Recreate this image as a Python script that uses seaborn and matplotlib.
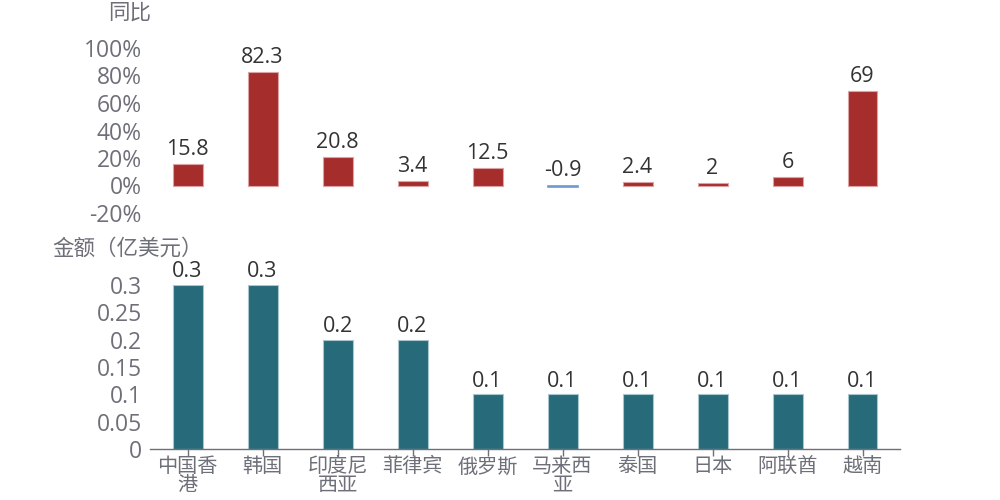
import matplotlib
matplotlib.use("Agg")
import matplotlib.pyplot as plt
import seaborn as sns
import pandas as pd

# 数据
countries = ["中国香\n港", "韩国", "印度尼\n西亚", "菲律宾", "俄罗斯",
             "马来西\n亚", "泰国", "日本", "阿联酋", "越南"]
yoy = [15.8, 82.3, 20.8, 3.4, 12.5, -0.9, 2.4, 2, 6, 69]
amount = [0.3, 0.3, 0.2, 0.2, 0.1, 0.1, 0.1, 0.1, 0.1, 0.1]
yoy_ticks = [-20, 0, 20, 40, 60, 80, 100]
amount_ticks = [0, 0.05, 0.1, 0.15, 0.2, 0.25, 0.3]

RED = "#a52e2d"
BLUE = "#6c9bd2"
TEAL = "#276b7a"
GRAY = "#6e7079"
TXT = "#333333"

sns.set_theme(style="white")
plt.rcParams['font.family'] = ['Open Sans', 'Noto Sans CJK SC', 'DejaVu Sans']

df = pd.DataFrame({"country": countries, "yoy": yoy, "amount": amount})
df["sign"] = ["neg" if v < 0 else "pos" for v in df["yoy"]]

fig = plt.figure(figsize=(10, 5), dpi=100)
ax1 = fig.add_axes([0.15, 0.574, 0.75, 0.33])
ax2 = fig.add_axes([0.15, 0.102, 0.75, 0.328])

fs = 15.5     # 数值标签
tfs = 16.5    # 刻度

# ─── 同比 ───
sns.barplot(data=df, x="country", y="yoy", hue="sign",
            palette={"pos": RED, "neg": BLUE}, dodge=False, width=0.4,
            ax=ax1, legend=False, edgecolor="#dba3a3", linewidth=0.8,
            saturation=1)
for i, v in enumerate(yoy):
    top = max(v, 0)
    ax1.text(i, top + 3, f"{v:g}", ha="center", va="bottom",
             fontsize=fs, color=TXT)
ax1.set_ylim(-20, 100)
ax1.set_xlim(-0.5, 9.5)
ax1.set_yticks(yoy_ticks)
ax1.set_yticklabels([f"{t}%" for t in yoy_ticks])
ax1.set_xticks([])
ax1.set_xlabel("")
ax1.set_ylabel("")
ax1.tick_params(axis="y", labelsize=tfs, colors=GRAY, length=0, pad=6)
for s in ax1.spines.values():
    s.set_visible(False)
# 负值的细条
for p in ax1.patches:
    if p.get_height() < 0:
        p.set_edgecolor(BLUE)
        p.set_linewidth(1.2)

# ─── 金额 ───
sns.barplot(data=df, x="country", y="amount", color=TEAL, width=0.4,
            ax=ax2, edgecolor="#a9c6cc", linewidth=0.8, saturation=1)
for i, v in enumerate(amount):
    ax2.text(i, v + 0.005, f"{v:g}", ha="center", va="bottom",
             fontsize=fs, color=TXT)
ax2.set_ylim(0, 0.3)
ax2.set_xlim(-0.5, 9.5)
ax2.set_yticks(amount_ticks)
ax2.set_yticklabels([f"{t:g}" for t in amount_ticks])
ax2.set_xlabel("")
ax2.set_ylabel("")
ax2.tick_params(axis="y", labelsize=tfs, colors=GRAY, length=0, pad=6)
ax2.tick_params(axis="x", labelsize=14.5, colors=GRAY, length=5,
                width=1, direction="out", bottom=True, pad=1)
for lbl in ax2.get_xticklabels():
    lbl.set_linespacing(0.9)
    lbl.set_verticalalignment("top")
for s in ["top", "right", "left"]:
    ax2.spines[s].set_visible(False)
ax2.spines["bottom"].set_color(GRAY)
ax2.spines["bottom"].set_linewidth(1)

fig.text(0.108, 0.973, "同比", fontsize=fs, color=GRAY, ha="left", va="center")
fig.text(0.052, 0.502, "金额（亿美元）", fontsize=fs, color=GRAY, ha="left", va="center")

fig.savefig("out.png", dpi=100)
